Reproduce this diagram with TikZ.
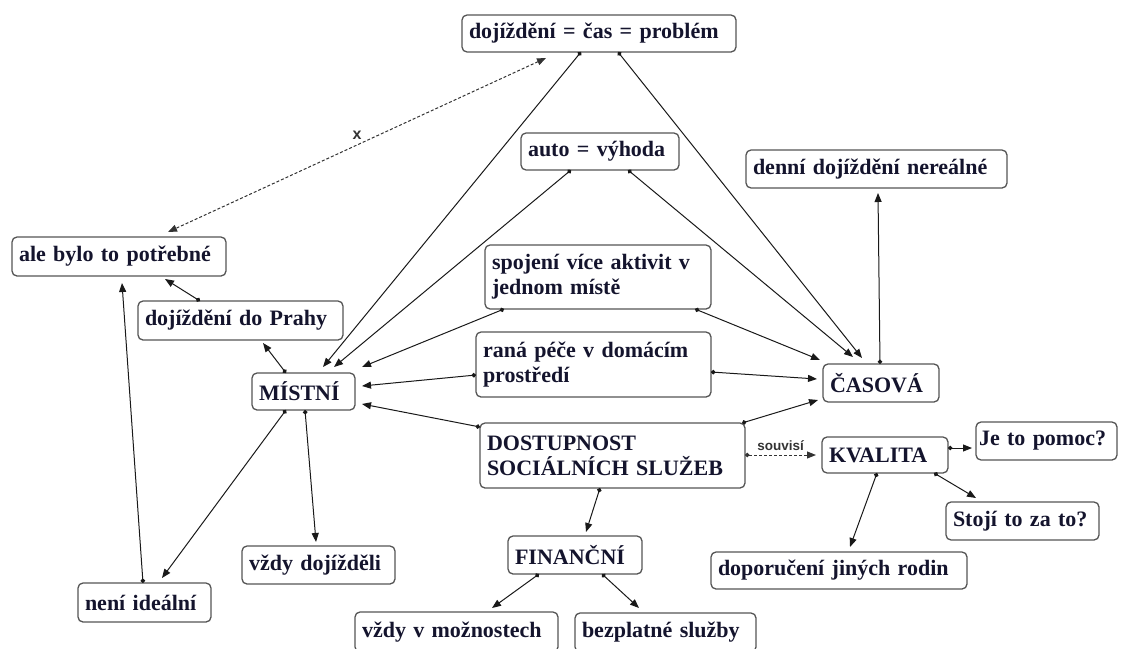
\documentclass[tikz,border=0pt]{standalone}
\usepackage{fontspec}
\setmainfont{Liberation Serif}
\newfontfamily\lblfont{Liberation Sans}
\usetikzlibrary{arrows.meta,calc}
\definecolor{txt}{RGB}{20,20,45}
\definecolor{bord}{RGB}{85,85,85}
\tikzset{
  cbox/.style={draw=bord, line width=1.3pt, rounded corners=5pt, fill=white, text=txt,
    font=\bfseries\fontsize{22}{25}\selectfont, align=left, inner xsep=7pt, inner ysep=0pt,
    outer sep=0pt, anchor=north west},
  conn/.style={line width=1pt, draw=black!90, {Circle[length=4.5pt]}-{Triangle[length=9pt,width=7pt]}},
  dconn/.style={line width=1pt, draw=black!80, dashed, dash pattern=on 3pt off 2pt},
  lbl/.style={font=\lblfont\bfseries\fontsize{13.5}{14}\selectfont, text=black!80, inner sep=1pt}
}
\begin{document}
\begin{tikzpicture}[x=1pt,y=-1pt]
\useasboundingbox (0,0) rectangle (1121,648);
% boxes
\node[cbox, text width=260pt, minimum height=37pt] (A) at (462,15) {dojíždění = čas = problém};
\node[cbox, text width=144pt, minimum height=37pt] (B) at (521,133) {auto = výhoda};
\node[cbox, text width=247pt, minimum height=38pt] (C) at (746,150) {denní dojíždění nereálné};
\node[cbox, text width=200pt, minimum height=39pt] (D) at (12,237) {ale bylo to potřebné};
\node[cbox, text width=212pt, minimum height=64pt] (E) at (485,245) {spojení více aktivit v\\jednom místě};
\node[cbox, text width=191pt, minimum height=39pt] (F) at (138,301) {dojíždění do Prahy};
\node[cbox, text width=221pt, minimum height=65pt] (G) at (476,332) {raná péče v domácím\\prostředí};
\node[cbox, text width=89pt, minimum height=37pt] (H) at (252,373) {MÍSTNÍ};
\node[cbox, text width=102pt, minimum height=38pt] (I) at (823,364) {ČASOVÁ};
\node[cbox, text width=251pt, minimum height=65pt] (J) at (480,423) {DOSTUPNOST\\SOCIÁLNÍCH SLUŽEB};
\node[cbox, text width=112pt, minimum height=36pt] (K) at (822,437) {KVALITA};
\node[cbox, text width=135pt, inner xsep=3pt, minimum height=38pt] (L) at (976,422) {\mbox{Je to pomoc?}};
\node[cbox, text width=139pt, minimum height=38pt] (M) at (946,502) {Stojí to za to?};
\node[cbox, text width=120pt, minimum height=38pt] (N) at (508,536) {FINANČNÍ};
\node[cbox, text width=139pt, minimum height=38pt] (O) at (242,546) {vždy dojížděli};
\node[cbox, text width=242pt, minimum height=37pt] (P) at (711,552) {doporučení jiných rodin};
\node[cbox, text width=119pt, minimum height=39pt] (Q) at (78,583) {není ideální};
\node[cbox, text width=189pt, minimum height=40pt] (R) at (355,612) {vždy v možnostech};
\node[cbox, text width=167pt, minimum height=39pt] (S) at (575,613) {bezplatné služby};
% connectors
\draw[dconn, {Triangle[length=9pt,width=7pt]}-{Triangle[length=9pt,width=7pt]}]
  ($(A.north west)+(84,43)$) -- node[midway, above=4pt, lbl, font=\lblfont\bfseries\fontsize{16}{16}\selectfont] {x} ($(D.north west)+(156,-5)$);
\draw[conn] ($(A.south west)+(119,0)$) -- ($(H.north west)+(71,-6)$);
\draw[conn] ($(A.south west)+(156,0)$) -- ($(I.north west)+(39,-6)$);
\draw[conn] ($(B.south west)+(50,0)$) -- ($(H.north west)+(82,-6)$);
\draw[conn] ($(B.south west)+(107,0)$) -- ($(I.north west)+(30,-7)$);
\draw[conn] ($(E.south west)+(19,0)$) -- ($(H.north east)+(7,-6)$);
\draw[conn] ($(E.south west)+(210,0)$) -- ($(I.north west)+(-3,-4)$);
\draw[conn] ($(G.north west)+(0,43)$) -- ($(H.north east)+(7,13)$);
\draw[conn] ($(G.north east)+(0,40)$) -- ($(I.north west)+(-6,15)$);
\draw[conn] ($(J.north west)+(0,4)$) -- ($(H.north east)+(7,31)$);
\draw[conn] ($(J.north east)+(-3,0)$) -- ($(I.north west)+(-5,36)$);
\draw[dconn, {Circle[length=4.5pt]}-{Triangle[length=9pt,width=7pt]}]
  ($(J.north east)+(0,32)$) -- node[midway, above=3pt, lbl] {souvisí} ($(K.north west)+(-6,18)$);
\draw[conn] ($(J.south west)+(120,0)$) -- ($(N.north west)+(78,-4)$);
\draw[conn] ($(N.south west)+(31,0)$) -- ($(R.north west)+(137,-4)$);
\draw[conn] ($(N.south west)+(94,0)$) -- ($(S.north west)+(64,-5)$);
\draw[conn] ($(H.south west)+(34,0)$) -- ($(Q.north west)+(84,-5)$);
\draw[conn] ($(H.south west)+(53,0)$) -- ($(O.north west)+(74,-4)$);
\draw[conn] ($(H.north west)+(34,0)$) -- ($(F.south west)+(125,3)$);
\draw[conn] ($(F.north west)+(62,0)$) -- ($(D.south west)+(153,3)$);
\draw[conn] ($(Q.north west)+(65,0)$) -- ($(D.south west)+(110,7)$);
\draw[conn] ($(I.north west)+(57,0)$) -- ($(C.south west)+(132,5)$);
\draw[conn] ($(K.north east)+(0,11)$) -- ($(L.north west)+(-4,26)$);
\draw[conn] ($(K.south west)+(112,0)$) -- ($(M.north west)+(30,-4)$);
\draw[conn] ($(K.south west)+(55,0)$) -- ($(P.north west)+(139,-5)$);
\end{tikzpicture}
\end{document}
